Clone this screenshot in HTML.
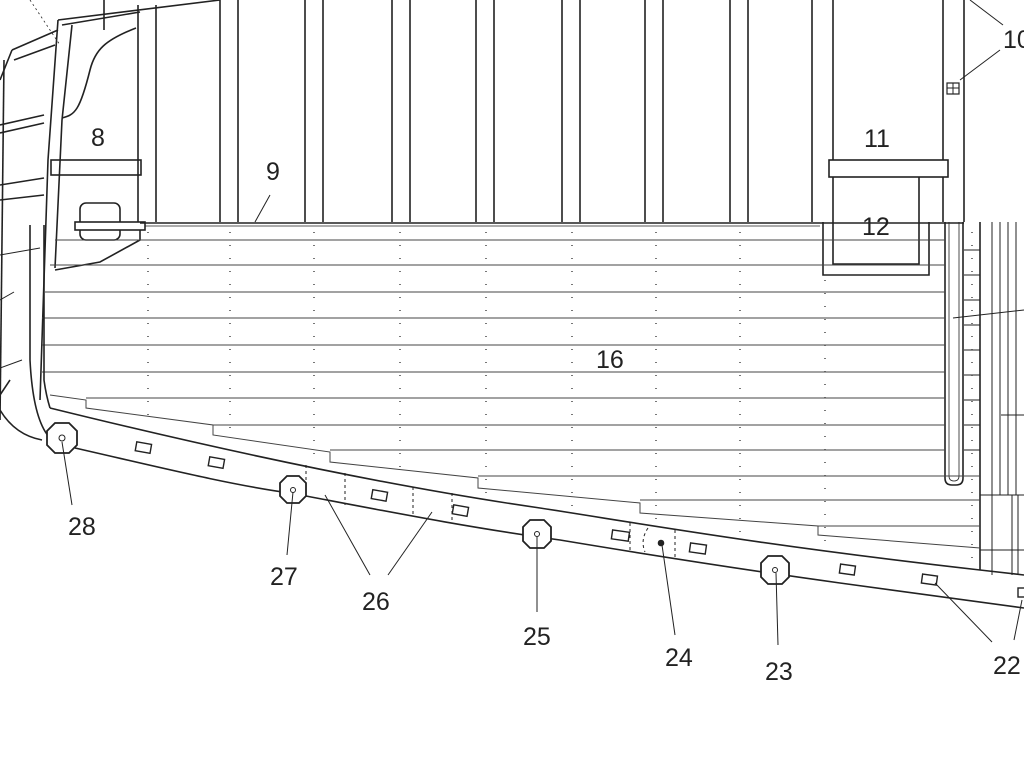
<!DOCTYPE html>
<html><head><meta charset="utf-8"><style>
html,body{margin:0;padding:0;background:#fff;}
svg{display:block}
text{font-family:"Liberation Sans Narrow","Liberation Sans",sans-serif;fill:#222;font-size:25px;}
</style></head><body>
<svg width="1024" height="768" viewBox="0 0 1024 768" xmlns="http://www.w3.org/2000/svg">
<g stroke="#222" stroke-width="1.6" fill="none">
<!-- vertical frames top -->
<g>
<line x1="138" y1="5" x2="138" y2="222"/><line x1="156" y1="5" x2="156" y2="222"/>
<line x1="220" y1="0" x2="220" y2="222"/><line x1="238" y1="0" x2="238" y2="222"/>
<line x1="305" y1="0" x2="305" y2="222"/><line x1="323" y1="0" x2="323" y2="222"/>
<line x1="392" y1="0" x2="392" y2="222"/><line x1="410" y1="0" x2="410" y2="222"/>
<line x1="476" y1="0" x2="476" y2="222"/><line x1="494" y1="0" x2="494" y2="222"/>
<line x1="562" y1="0" x2="562" y2="222"/><line x1="580" y1="0" x2="580" y2="222"/>
<line x1="645" y1="0" x2="645" y2="222"/><line x1="663" y1="0" x2="663" y2="222"/>
<line x1="730" y1="0" x2="730" y2="222"/><line x1="748" y1="0" x2="748" y2="222"/>
<line x1="812" y1="0" x2="812" y2="222"/><line x1="833" y1="0" x2="833" y2="160"/>
<line x1="943" y1="0" x2="943" y2="160"/><line x1="943" y1="177" x2="943" y2="222"/><line x1="964" y1="0" x2="964" y2="222"/>
</g>
<!-- bow top frame -->
<path d="M58 20 L220 0"/><path d="M62 25 L140 12"/>
<path d="M58 20 L48 160 L40 400"/><path d="M72 25 L62 120 L55 268"/>
<path d="M12 50 L58 30"/><path d="M14 60 L55 45"/>
<path d="M12 50 L0 80"/><path d="M4 60 L0 420"/>
<path d="M0 125 L44 115"/><path d="M0 133 L44 123"/><path d="M0 185 L44 178"/><path d="M0 200 L44 195"/>
<path d="M136 28 C105 40 95 50 90 70 C80 110 75 115 62 118"/>
<line x1="104" y1="0" x2="104" y2="30"/>
<line x1="30" y1="0" x2="60" y2="45" stroke-dasharray="2 3" stroke-width="0.8"/>
<!-- 8 crossbar -->
<rect x="51" y="160" width="90" height="15"/>
<rect x="80" y="203" width="40" height="37" rx="6"/>
<rect x="75" y="222" width="70" height="8" fill="#fff"/>
<path d="M140 230 L140 240 L100 262 L55 270"/>
<!-- deck line -->
<line x1="140" y1="223" x2="964" y2="223"/><line x1="145" y1="226" x2="820" y2="226" stroke-width="0.8"/>
<line x1="255" y1="222" x2="270" y2="195" stroke-width="1"/>
<!-- 11/12 -->
<rect x="829" y="160" width="119" height="17"/>
<path d="M833 177 L833 264 L919 264 L919 177"/>
<path d="M823 222 L823 275 L929 275 L929 222"/>
<!-- pipe U -->
<path d="M945 222 L945 478 Q945 485 952 485 L956 485 Q963 485 963 478 L963 222"/>
<path d="M949 222 L949 476 Q949 481 954 481 Q959 481 959 476 L959 222" stroke-width="0.8"/>
<line x1="980" y1="222" x2="980" y2="570"/>
<g stroke-width="1">
<line x1="992" y1="222" x2="992" y2="495"/><line x1="1000" y1="222" x2="1000" y2="495"/><line x1="1008" y1="222" x2="1008" y2="495"/><line x1="1016" y1="222" x2="1016" y2="495"/>
<line x1="980" y1="495" x2="1024" y2="495"/><line x1="980" y1="550" x2="1024" y2="550"/>
<line x1="992" y1="495" x2="992" y2="575"/><line x1="1012" y1="495" x2="1012" y2="575"/><line x1="1018" y1="495" x2="1018" y2="575"/>
<line x1="964" y1="250" x2="980" y2="250"/><line x1="964" y1="275" x2="980" y2="275"/><line x1="964" y1="300" x2="980" y2="300"/><line x1="964" y1="325" x2="980" y2="325"/><line x1="964" y1="350" x2="980" y2="350"/><line x1="964" y1="375" x2="980" y2="375"/><line x1="964" y1="400" x2="980" y2="400"/><line x1="964" y1="425" x2="980" y2="425"/><line x1="964" y1="450" x2="980" y2="450"/>
<line x1="953" y1="318" x2="1024" y2="310"/><line x1="1001" y1="415" x2="1024" y2="415"/>
</g>
<!-- planks -->
<g stroke-width="1" stroke="#444">
<line x1="55" y1="240" x2="945" y2="240"/>
<line x1="50" y1="265" x2="945" y2="265"/>
<line x1="45" y1="292" x2="945" y2="292"/>
<line x1="42" y1="318" x2="945" y2="318"/>
<line x1="42" y1="345" x2="945" y2="345"/>
<line x1="42" y1="372" x2="945" y2="372"/>
<line x1="86" y1="398" x2="945" y2="398"/>
<line x1="213" y1="425" x2="945" y2="425"/>
<line x1="330" y1="450" x2="945" y2="450"/>
<line x1="478" y1="476" x2="980" y2="476"/>
<line x1="640" y1="500" x2="980" y2="500"/>
<line x1="818" y1="526" x2="980" y2="526"/>
<path d="M50 395 L86 400 L86 408 L213 425 L213 435 L330 452 L330 462 L478 478 L478 488 L640 503 L640 513 L818 526 L818 535 L980 548"/>
</g>
<g stroke="#555" stroke-width="1.6" stroke-dasharray="1 12">
<line x1="148" y1="232" x2="148" y2="420"/><line x1="230" y1="232" x2="230" y2="440"/>
<line x1="314" y1="232" x2="314" y2="460"/><line x1="400" y1="232" x2="400" y2="478"/>
<line x1="486" y1="232" x2="486" y2="495"/><line x1="572" y1="232" x2="572" y2="510"/>
<line x1="656" y1="232" x2="656" y2="525"/><line x1="740" y1="232" x2="740" y2="540"/>
<line x1="825" y1="280" x2="825" y2="545"/><line x1="972" y1="232" x2="972" y2="560"/>
</g>
<!-- bow stem curves -->
<path d="M44 225 L44 380 Q46 395 50 408"/>
<path d="M30 225 L30 360 Q33 420 50 438"/>
<path d="M0 410 Q15 435 42 440"/>
<path d="M0 395 L10 380"/>
<line x1="0" y1="368" x2="22" y2="360" stroke-width="1"/>
<line x1="0" y1="300" x2="14" y2="292" stroke-width="1"/>
<line x1="0" y1="255" x2="40" y2="248" stroke-width="1"/>
<!-- keel -->
<path d="M50 408 C200 445 380 485 540 508 C650 525 760 545 980 570 L1024 575"/>
<path d="M75 448 C150 465 230 485 290 493 C380 510 470 528 560 540 C680 560 760 572 840 583 L1024 608"/>
<g stroke-width="1" stroke-dasharray="3 3">
<line x1="306" y1="465" x2="306" y2="497"/><line x1="345" y1="473" x2="345" y2="505"/><line x1="413" y1="487" x2="413" y2="517"/><line x1="452" y1="493" x2="452" y2="522"/>
<line x1="630" y1="523" x2="630" y2="552"/><line x1="675" y1="530" x2="675" y2="558"/>
<path d="M648 528 Q640 540 645 552"/>
</g>
<!-- rectangles -->
<g stroke-width="1.4">
<rect x="136" y="443" width="15" height="9" transform="rotate(10 143 447)"/>
<rect x="209" y="458" width="15" height="9" transform="rotate(10 216 462)"/>
<rect x="372" y="491" width="15" height="9" transform="rotate(10 380 495)"/>
<rect x="453" y="506" width="15" height="9" transform="rotate(10 460 510)"/>
<rect x="612" y="531" width="17" height="9" transform="rotate(8 620 535)"/>
<rect x="690" y="544" width="16" height="9" transform="rotate(8 698 548)"/>
<rect x="840" y="565" width="15" height="9" transform="rotate(8 847 569)"/>
<rect x="922" y="575" width="15" height="9" transform="rotate(8 929 579)"/>
<rect x="1018" y="588" width="15" height="9"/>
</g>
<!-- octagons -->
<g fill="#fff" stroke-width="1.8">
<polygon points="55,423 69,423 77,431 77,445 69,453 55,453 47,445 47,431"/>
<polygon points="287,476 299,476 306,483 306,496 299,503 287,503 280,496 280,483"/>
<polygon points="530,520 544,520 551,527 551,541 544,548 530,548 523,541 523,527"/>
<polygon points="768,556 782,556 789,563 789,577 782,584 768,584 761,577 761,563"/>
</g>
<g stroke-width="1"><circle cx="62" cy="438" r="3"/><circle cx="293" cy="490" r="2.5"/><circle cx="537" cy="534" r="2.5"/><circle cx="775" cy="570" r="2.5"/></g>
<circle cx="661" cy="543" r="2.5" fill="#222"/>
<!-- 10 small box -->
<rect x="947" y="83" width="12" height="11" stroke-width="1.2"/>
<line x1="953" y1="83" x2="953" y2="94" stroke-width="1"/><line x1="947" y1="88" x2="959" y2="88" stroke-width="1"/>
<!-- leaders -->
<g stroke-width="1">
<line x1="62" y1="442" x2="72" y2="505"/>
<line x1="293" y1="492" x2="287" y2="555"/>
<line x1="325" y1="495" x2="370" y2="575"/><line x1="432" y1="512" x2="388" y2="575"/>
<line x1="537" y1="537" x2="537" y2="612"/>
<line x1="662" y1="545" x2="675" y2="635"/>
<line x1="776" y1="573" x2="778" y2="645"/>
<line x1="935" y1="583" x2="992" y2="642"/><line x1="1022" y1="600" x2="1014" y2="640"/>
<line x1="960" y1="80" x2="1000" y2="50"/><line x1="970" y1="0" x2="1003" y2="25"/>
</g>
</g>
<text x="91" y="146">8</text>
<text x="266" y="180">9</text>
<text x="1003" y="48">10</text>
<text x="864" y="147">11</text>
<text x="862" y="235">12</text>
<text x="596" y="368">16</text>
<text x="993" y="674">22</text>
<text x="765" y="680">23</text>
<text x="665" y="666">24</text>
<text x="523" y="645">25</text>
<text x="362" y="610">26</text>
<text x="270" y="585">27</text>
<text x="68" y="535">28</text>
</svg>
</body></html>
